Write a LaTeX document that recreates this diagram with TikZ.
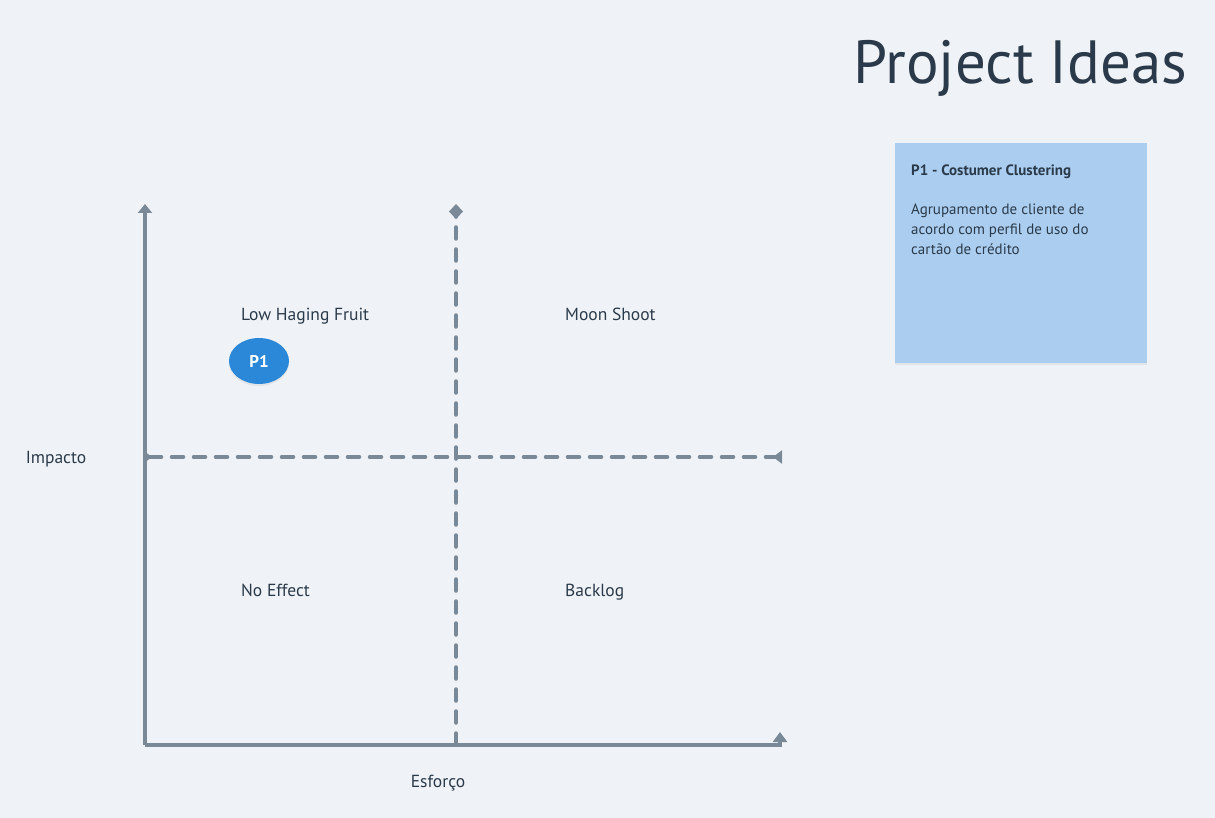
\documentclass[tikz,border=0pt]{standalone}
\usepackage{fontspec}
\setmainfont{PT Sans}
\usetikzlibrary{positioning,arrows.meta,shadows,shapes.geometric}
\definecolor{bgcol}{HTML}{EFF3F7}
\definecolor{axiscol}{HTML}{7A8998}
\definecolor{txtcol}{HTML}{2B3A4A}
\definecolor{bubblecol}{HTML}{2B88D8}
\definecolor{notecol}{HTML}{ABCEF0}

\begin{document}
\begin{tikzpicture}[
  x=1pt, y=-1pt,
  every node/.style={
    text=txtcol,
    font=\fontsize{17.5}{20}\selectfont
  },
  axis/.style={line width=3.5pt, draw=axiscol},
  divider/.style={line width=3.5pt, draw=axiscol, line cap=round,
    dash pattern=on 12pt off 10pt},
  quadlabel/.style={anchor=base west, inner sep=0pt},
  bubble/.style={ellipse, fill=bubblecol, minimum width=60pt, minimum height=46pt,
    inner sep=0pt, text=white, font=\fontsize{17}{20}\selectfont\bfseries,
    drop shadow={opacity=0.12, shadow xshift=0pt, shadow yshift=-2pt}},
  note/.style={fill=notecol, minimum width=252pt, minimum height=220pt,
    drop shadow={opacity=0.12, shadow xshift=0pt, shadow yshift=-1.5pt}}
]

% Background
\fill[bgcol] (0,0) rectangle (1215,818);
\useasboundingbox (0,0) rectangle (1215,818);

% Title
\node[anchor=east, font=\fontsize{61}{66}\selectfont] (title) at (1191,68) {Project Ideas};

% Key points of the matrix
\coordinate (origin) at (145,745);
\coordinate (ytop) at (145,204);
\coordinate (xcorner) at (780,745);
\coordinate (xend) at (780,732);
\coordinate (vbottom) at (456,745);
\coordinate (vtop) at (456,204);
\coordinate (hleft) at (143,457);
\coordinate (hright) at (782,457);

% Dashed dividers
\draw[divider, {Triangle[reversed,length=9pt,width=13pt]}-{Triangle[reversed,length=9pt,width=13pt]}] (hleft) -- (hright);
\draw[divider, -{Diamond[length=15pt,width=14pt]}] (vbottom) -- (vtop);

% Axes
\draw[axis, -{Triangle[length=9pt,width=14pt]}] (origin) -- (ytop);
\draw[axis, -{Triangle[length=10pt,width=14pt]}] (origin) -- (xcorner) -- (xend);

% Axis labels
\node (impacto) at (56,459) {Impacto};
\node (esforco) at (438,783) {Esforço};

% Quadrant labels
\node[quadlabel] (lowfruit) at (241,320) {Low Haging Fruit};
\node[quadlabel] (moonshot) at (565,320) {Moon Shoot};
\node[quadlabel] (noeffect) at (241,596) {No Effect};
\node[quadlabel] (backlog) at (565,596) {Backlog};

% Idea bubble
\node[bubble] (p1) at (259,361) {P1};

% Note card
\node[note, anchor=north west] (card) at (895,143) {};
\node[anchor=north west, inner sep=0pt, font=\fontsize{15}{20}\selectfont\bfseries] (cardtitle) at ([xshift=16pt,yshift=-22pt]card.north west) {P1 - Costumer Clustering};
\node[anchor=north west, inner sep=0pt, align=left, font=\fontsize{15}{20}\selectfont] (cardtext) at ([xshift=16pt,yshift=-61pt]card.north west)
  {Agrupamento de cliente de\\acordo com perfil de uso do\\cartão de crédito};

\end{tikzpicture}
\end{document}
